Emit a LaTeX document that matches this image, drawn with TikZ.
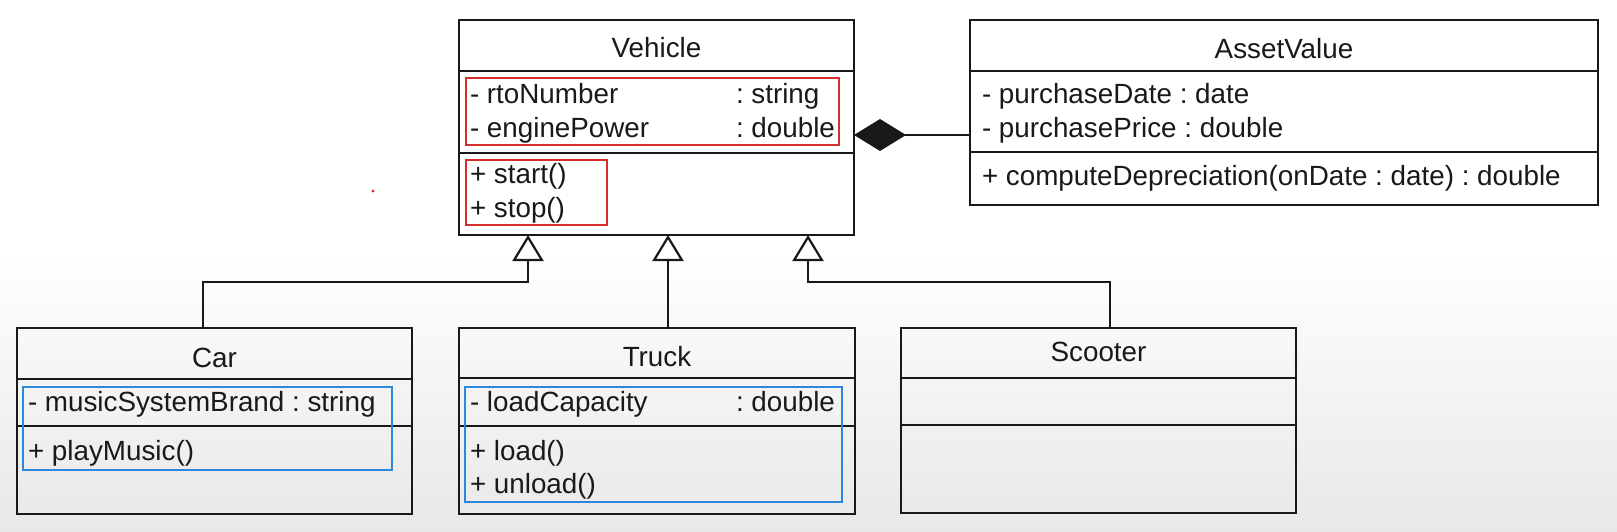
\documentclass[tikz,border=0pt]{standalone}
\usepackage{fontspec}
\setmainfont{Liberation Sans}
\usetikzlibrary{arrows.meta,calc}
\definecolor{redbox}{RGB}{214,45,45}
\definecolor{bluebox}{RGB}{45,135,220}
\definecolor{bgbot}{RGB}{232,232,232}
\definecolor{ink}{RGB}{25,25,25}
\begin{document}
\frenchspacing
\begin{tikzpicture}[x=0.5pt,y=-0.5pt,
  cls/.style={draw=ink, line width=1.1pt, rectangle, inner sep=0pt, outer sep=0pt, anchor=north west},
  txt/.style={inner sep=0pt, outer sep=0pt, anchor=base west, text=ink, font=\fontsize{13.9}{16}\selectfont\frenchspacing},
  ttl/.style={txt, anchor=base},
  sepline/.style={draw=ink, line width=1.1pt},
  redhl/.style={draw=redbox, line width=0.6pt},
  bluehl/.style={draw=bluebox, line width=0.75pt},
  inh/.style={draw=ink, line width=1.1pt, -{Triangle[open, length=13pt, width=15.5pt, fill=white]}},
  comp/.style={draw=ink, line width=1.1pt, -{Diamond[length=26pt, width=16pt, fill=ink]}}
]
\useasboundingbox (0,0) rectangle (1617,531);
\fill[white] (0,0) rectangle (1617,531);
\shade[top color=white, bottom color=bgbot] (0,250) rectangle (1617,531);

% class boxes
\node[cls, minimum width=197.5pt, minimum height=107.5pt] (veh) at (459,20) {};
\node[cls, minimum width=314pt, minimum height=92.5pt] (av) at (970,20) {};
\node[cls, minimum width=197.5pt, minimum height=93pt] (car) at (17,328) {};
\node[cls, minimum width=198pt, minimum height=93pt] (truck) at (459,328) {};
\node[cls, minimum width=197.5pt, minimum height=92.5pt] (scoot) at (901,328) {};

% compartments
\draw[sepline] ($(veh.north west)+(0,51)$) -- ($(veh.north east)+(0,51)$);
\draw[sepline] ($(veh.north west)+(0,133)$) -- ($(veh.north east)+(0,133)$);
\draw[sepline] ($(av.north west)+(0,51)$) -- ($(av.north east)+(0,51)$);
\draw[sepline] ($(av.north west)+(0,132)$) -- ($(av.north east)+(0,132)$);
\draw[sepline] ($(car.north west)+(0,51)$) -- ($(car.north east)+(0,51)$);
\draw[sepline] ($(car.north west)+(0,98)$) -- ($(car.north east)+(0,98)$);
\draw[sepline] ($(truck.north west)+(0,50)$) -- ($(truck.north east)+(0,50)$);
\draw[sepline] ($(truck.north west)+(0,98)$) -- ($(truck.north east)+(0,98)$);
\draw[sepline] ($(scoot.north west)+(0,50)$) -- ($(scoot.north east)+(0,50)$);
\draw[sepline] ($(scoot.north west)+(0,97)$) -- ($(scoot.north east)+(0,97)$);

% Vehicle texts
\node[ttl] (vehT) at (656.5,57) {Vehicle};
\node[txt] (vehA1) at (470,103) {- rtoNumber};
\node[txt] (vehA1t) at (736,103) {: string};
\node[txt] (vehA2) at (470,137) {- enginePower};
\node[txt] (vehA2t) at (736,137) {: double};
\node[txt] (vehM1) at (470,183) {+ start()};
\node[txt] (vehM2) at (470,217) {+ stop()};
\draw[redhl] (466,78) rectangle (839,145);
\draw[redhl] (466,160) rectangle (607,225);

% AssetValue texts
\node[ttl] (avT) at (1284,58) {AssetValue};
\node[txt] (avA1) at (982,103) {- purchaseDate : date};
\node[txt] (avA2) at (982,137) {- purchasePrice : double};
\node[txt] (avM1) at (982,185) {+ computeDepreciation(onDate : date) : double};

% Car texts
\node[ttl] (carT) at (214.5,367) {Car};
\node[txt] (carA1) at (28,411) {- musicSystemBrand : string};
\node[txt] (carM1) at (28,460) {+ playMusic()};
\draw[bluehl] (23,387) rectangle (392,470);

% Truck texts
\node[ttl] (truckT) at (657,366) {Truck};
\node[txt] (truckA1) at (470,411) {- loadCapacity};
\node[txt] (truckA1t) at (736,411) {: double};
\node[txt] (truckM1) at (470,460) {+ load()};
\node[txt] (truckM2) at (470,493) {+ unload()};
\draw[bluehl] (465,387) rectangle (842,502);

% Scooter
\node[ttl] (scootT) at (1098.5,361) {Scooter};

% small red mark
\fill[redbox] (373,191) circle (0.8pt);

% connectors
\coordinate (vt1) at ($(veh.south west)+(69,0)$);
\coordinate (vt2) at ($(veh.south west)+(209,0)$);
\coordinate (vt3) at ($(veh.south west)+(349,0)$);
\coordinate (ct) at ($(car.north west)+(186,0)$);
\coordinate (tt) at ($(truck.north west)+(209,0)$);
\coordinate (st) at ($(scoot.north west)+(209,0)$);
\draw[inh] (ct) -- ++(0,-46) -| (vt1);
\draw[inh] (tt) -- (vt2);
\draw[inh] (st) -- ++(0,-46) -| (vt3);
\coordinate (ae) at ($(av.north west)+(0,115)$);
\coordinate (ve) at ($(veh.north east)+(0,115)$);
\draw[comp] (ae) -- (ve);
\end{tikzpicture}
\end{document}
